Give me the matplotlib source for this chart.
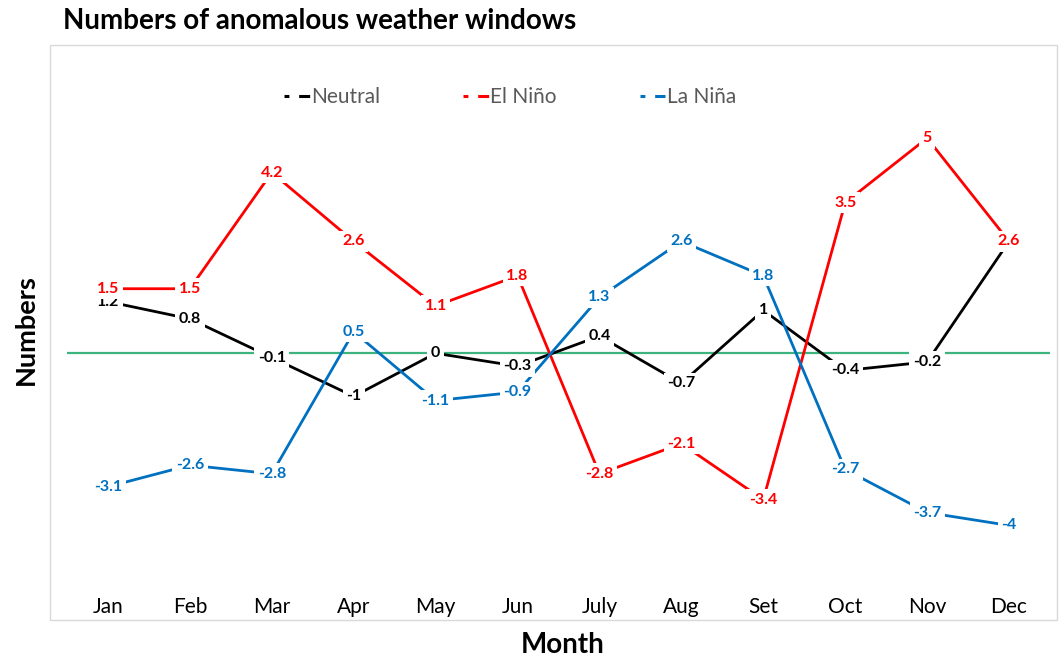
import matplotlib
matplotlib.use("Agg")
import matplotlib.pyplot as plt
from matplotlib.lines import Line2D
from matplotlib.patches import Rectangle

plt.rcParams['font.family'] = ['Lato', 'DejaVu Sans']

months = ["Jan", "Feb", "Mar", "Apr", "May", "Jun", "July", "Aug", "Set", "Oct", "Nov", "Dec"]
neutral = [1.2, 0.8, -0.1, -1, 0, -0.3, 0.4, -0.7, 1, -0.4, -0.2, 2.6]
el_nino = [1.5, 1.5, 4.2, 2.6, 1.1, 1.8, -2.8, -2.1, -3.4, 3.5, 5, 2.6]
la_nina = [-3.1, -2.6, -2.8, 0.5, -1.1, -0.9, 1.3, 2.6, 1.8, -2.7, -3.7, -4]

series = [
    ("Neutral", neutral, "#000000"),
    ("El Niño", el_nino, "#FF0000"),
    ("La Niña", la_nina, "#0070C0"),
]

W, H = 1059, 661
fig = plt.figure(figsize=(W / 100, H / 100), dpi=100)

# plot area in pixel terms
left_px, right_px, top_px, bottom_px = 67, 1050, 52, 590
ax = fig.add_axes([left_px / W, 1 - bottom_px / H,
                   (right_px - left_px) / W, (bottom_px - top_px) / H])

x = list(range(len(months)))
ax.axhline(0, color="#3DB37D", lw=1.6, zorder=1)

for name, vals, col in series:
    ax.plot(x, vals, color=col, lw=2.0, zorder=2, solid_capstyle="butt")

def fmt(v):
    return f"{v:g}"

for name, vals, col in series:
    for xi, v in zip(x, vals):
        ax.text(xi, v, fmt(v), ha="center", va="center", color=col,
                fontsize=11.5, fontweight="bold", zorder=3,
                bbox=dict(boxstyle="square,pad=0.22", fc="white", ec="none"))

ax.set_xlim(-0.5, 11.5)
ax.set_ylim(-5.5, 7.0)
ax.set_xticks(x)
ax.set_xticklabels(months, fontsize=15, color="#000000")
ax.tick_params(axis="x", length=0, pad=5)
ax.set_yticks([])
for s in ax.spines.values():
    s.set_visible(False)

# legend with short dashed markers (short dash, gap, longer dash touching text)
handles = [Line2D([0], [0], color=col, lw=2.2, dashes=(1.6, 3.2, 3.6, 10))
           for _, _, col in series]
leg = ax.legend(handles, [n for n, _, _ in series], loc="center",
                bbox_to_anchor=((510 - left_px) / (right_px - left_px),
                                (bottom_px - 97) / (bottom_px - top_px)),
                ncol=3, frameon=False, fontsize=15, handlelength=1.23,
                handletextpad=0.05, columnspacing=4.0, labelcolor="#595959")

# chart frame
fig.patches.append(Rectangle((50 / W, 1 - 620 / H), (1057 - 50) / W, (620 - 45) / H,
                             transform=fig.transFigure, fill=False,
                             ec="#D9D9D9", lw=1.0))

fig.text(63 / W, 1 - 21 / H, "Numbers of anomalous weather windows",
         fontsize=20, fontweight="bold", ha="left", va="center")
fig.text(26 / W, 1 - 330 / H, "Numbers", fontsize=19.5, fontweight="bold",
         rotation=90, ha="center", va="center")
fig.text(563 / W, 1 - 645 / H, "Month", fontsize=20, fontweight="bold",
         ha="center", va="center")

fig.savefig("out.png", dpi=100)
